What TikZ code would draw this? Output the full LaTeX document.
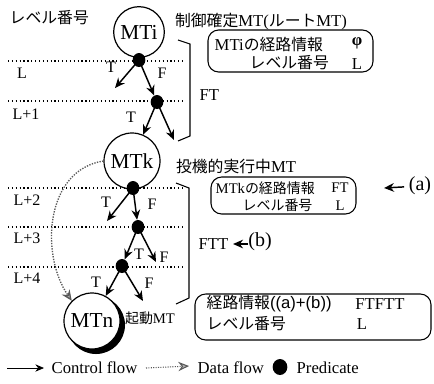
\documentclass[tikz,border=0pt]{standalone}
\usepackage{fontspec}
\setmainfont{Liberation Serif}
\newfontfamily\jp[Scale=0.95]{Noto Sans CJK JP}
\newfontfamily\lsans{Liberation Sans}
\usetikzlibrary{arrows.meta,shapes.geometric}
\begin{document}
\begin{tikzpicture}[x=0.75pt,y=-0.75pt,
  mt/.style={circle,draw,line width=0.9pt,inner sep=0pt,font=\fontsize{16}{16}\selectfont,fill=white},
  pred/.style={ellipse,fill=black,minimum width=9.5pt,minimum height=10.5pt,inner sep=0pt},
  cf/.style={line width=1.1pt,-{Stealth[length=7.5pt,width=6.5pt]}},
  lvl/.style={dotted,line width=0.9pt},
  lab/.style={font=\fontsize{12}{12}\selectfont},
  jtxt/.style={font=\fontsize{12.5}{14}\selectfont},
  smtxt/.style={font=\fontsize{11}{12}\selectfont},
  legtxt/.style={font=\fontsize{12.5}{12.5}\selectfont,anchor=west},
  infobox/.style={draw,line width=0.8pt,rounded corners=8pt},
  df/.style={densely dotted,line width=1pt,gray!70!black,-{Stealth[length=8pt,width=7pt,fill=gray!60]}}
]
\path[use as bounding box] (0,0) rectangle (434,383);
% level lines
\foreach \yy in {61,101,188,227,267} \draw[lvl] (8,\yy) -- (185,\yy);
\node[jtxt,anchor=west] (lvlhead) at (5,18) {\jp レベル番号};
\node[lab] (lL) at (22,73) {L};
\node[lab] (lL1) at (26,114) {L+1};
\node[lab] (lL2) at (27,200) {L+2};
\node[lab] (lL3) at (27,238) {L+3};
\node[lab] (lL4) at (27,278) {L+4};
% MT nodes
\node[mt,minimum size=38pt] (mti) at (139,32) {MTi};
\node[mt,minimum size=42pt] (mtk) at (132,161) {MTk};
\fill (96,325) circle (29);
\node[mt,minimum size=42pt] (mtn) at (92,321) {MTn};
% predicates
\node[pred] (d1) at (139,60) {};
\node[pred] (d2) at (157,102) {};
\node[pred] (d3) at (133,188) {};
\node[pred] (d4) at (138,227) {};
\node[pred] (d5) at (122,266) {};
\coordinate (t1) at (115,88);
\coordinate (f2) at (174,140);
\coordinate (t3) at (107,221);
\coordinate (f4) at (156,262);
\coordinate (f5) at (143,301);
\draw[cf] (d1.center) -- (t1);
\draw[cf] (d1.center) -- (d2);
\draw[cf] (d2.center) -- (mtk);
\draw[cf] (d2.center) -- (f2);
\draw[cf] (d3.center) -- (t3);
\draw[cf] (d3.center) -- (d4);
\draw[cf] (d4.center) -- (d5);
\draw[cf] (d4.center) -- (f4);
\draw[cf] (d5.center) -- (mtn);
\draw[cf] (d5.center) -- (f5);
\node[lab] (T1) at (111,67) {T};
\node[lab] (F1) at (162,73) {F};
\node[lab] (T2) at (131,117) {T};
\node[lab] (T3) at (106,202) {T};
\node[lab] (F3) at (152,204) {F};
\node[lab] (T4) at (139,254) {T};
\node[lab] (F4) at (164,257) {F};
\node[lab] (T5) at (96,282) {T};
\node[lab] (F5) at (149,283) {F};
% brackets
\draw[line width=0.8pt] (178,40) -- (190,44) -- (190,136) -- (178,141);
\node[jtxt,anchor=west] (ft) at (195,95) {FT};
\draw[line width=0.8pt] (176,183) -- (189,188) -- (189,298) -- (176,304);
\node[jtxt,anchor=west] (ftt) at (194,244) {FTT};
\coordinate (bt) at (248,244);
\draw[cf] (bt) -- (ftt);
\node[font=\fontsize{15}{15}\selectfont] (b) at (260,242) {(b)};
% labels near MTs
\node[jtxt] (root) at (261,22) {{\jp 制御確定}MT({\jp ルート}MT)};
\node[jtxt] (spec) at (236,166) {{\jp 投機的実行中}MT};
\node[smtxt] (start) at (150,318) {{\jp 起動}MT};
% box 1
\draw[infobox] (208,30) rectangle (373,72);
\node[jtxt,anchor=west] (b1a) at (210,44) {MTi{\jp の経路情報}};
\node[jtxt] (b1b) at (357,43) {\bfseries φ};
\node[jtxt,anchor=west] (b1c) at (245,63) {\jp レベル番号};
\node[jtxt] (b1d) at (357,64) {L};
% box 2
\draw[infobox] (211,177) rectangle (356,214);
\node[smtxt,anchor=west] (b2a) at (211,188) {MTk{\jp の経路情報}};
\node[smtxt] (b2b) at (340,188) {FT};
\node[smtxt,anchor=west] (b2c) at (238,205) {\jp レベル番号};
\node[smtxt] (b2d) at (340,206) {L};
\node[font=\fontsize{15}{15}\selectfont] (a) at (420,186) {(a)};
\coordinate (atip) at (384,188);
\draw[cf] (a) -- (atip);
% box 3
\draw[infobox] (195,294) rectangle (431,340);
\node[jtxt,anchor=west] (b3a) at (202,304) {{\jp 経路情報}{\lsans ((a)+(b))}};
\node[jtxt] (b3b) at (380,304) {FTFTT};
\node[jtxt,anchor=west] (b3c) at (202,324) {\jp レベル番号};
\node[jtxt] (b3d) at (362,324) {L};
% data flow
\draw[df] (mtk.west) .. controls (45,170) and (40,255) .. (mtn.north west);
% legend
\coordinate (l1a) at (7,368);
\coordinate (l1b) at (44,368);
\draw[line width=0.6pt,-{Stealth[length=6.5pt,width=5.5pt]}] (l1a) -- (l1b);
\node[legtxt] (lc) at (47,368) {Control flow};
\coordinate (l2a) at (146,368);
\coordinate (l2b) at (189,366);
\draw[df,line width=0.8pt] (l2a) -- (l2b);
\node[legtxt] (ld) at (193,368) {Data flow};
\node[pred,minimum width=11pt,minimum height=12pt] (lp) at (280,367) {};
\node[legtxt] (lpt) at (292,368) {Predicate};
\end{tikzpicture}
\end{document}
